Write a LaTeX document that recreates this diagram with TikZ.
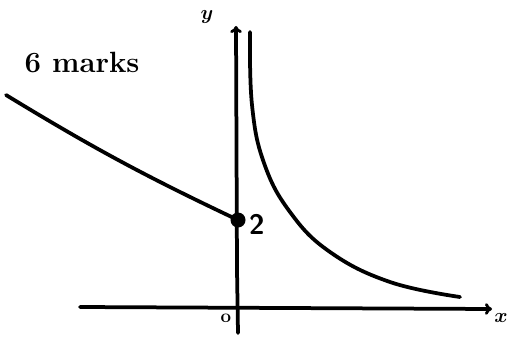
\documentclass[tikz,border=0pt]{standalone}
\usepackage{amsmath}
\usetikzlibrary{arrows.meta}

\begin{document}
\begin{tikzpicture}[x=0.03cm, y=-0.03cm, line cap=round, line join=round,
    every node/.style={inner sep=0pt},
    pen/.style={line width=3.2pt, black},
    axis/.style={pen, -{To[length=6pt, width=10pt, line width=2.4pt]}},
    hand/.style={font=\fontsize{16}{18}\selectfont\bfseries}]
  \useasboundingbox (0,0) rectangle (510,338);
  % axes
  \coordinate (xl) at (80,307);
  \coordinate (xr) at (492,309);
  \coordinate (yb) at (238,333);
  \coordinate (yt) at (236,26);
  \draw[axis] (xl) -- (xr);
  \draw[axis] (yb) -- (237,270) -- (yt);
  \node[hand] (xlab) at (501,318) {$\boldsymbol{x}$};
  \node[hand] (ylab) at (207,17) {$\boldsymbol{y}$};
  \node[hand] (olab) at (226,318) {o};
  % intercept
  \node[circle, fill=black, minimum size=0.45cm] (pt) at (238,220) {};
  \node[anchor=west] (two) at (249,224) {\fontsize{24}{26}\selectfont\textsf{\bfseries 2}};
  \coordinate (ls) at (6,95);
  \draw[pen] (ls) to[bend right=3] (pt.center);
  % hyperbola branch
  \draw[pen] plot[smooth, tension=0.7] coordinates {(250,32) (252,105) (264,163)
    (290,212) (330,252) (390,282) (460,297)};
  \node (mk) at (82,63) {\fontsize{25}{30}\selectfont\bfseries 6 marks};
\end{tikzpicture}
\end{document}
